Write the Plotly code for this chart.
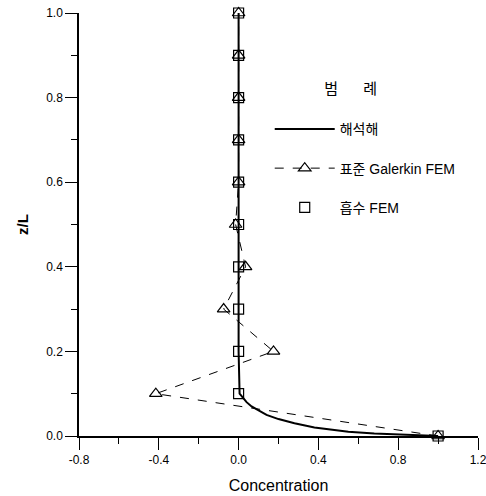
import plotly.graph_objects as go

# Analytical solution
z_exact = [0.0, 0.003, 0.006, 0.01, 0.015, 0.02, 0.03, 0.04, 0.05, 0.06, 0.07, 0.08, 0.09, 0.1,
           0.2, 0.3, 0.4, 0.5, 0.6, 0.7, 0.8, 0.9, 1.0]
c_exact = [1.0, 0.82, 0.68, 0.55, 0.45, 0.38, 0.28, 0.2, 0.14, 0.1, 0.065, 0.04, 0.02, 0.005,
           0.0, 0.0, 0.0, 0.0, 0.0, 0.0, 0.0, 0.0, 0.0]

# Standard Galerkin FEM
z_gal = [0.0, 0.1, 0.2, 0.3, 0.4, 0.5, 0.6, 0.7, 0.8, 0.9, 1.0]
c_gal = [1.0, -0.415, 0.175, -0.075, 0.035, -0.015, 0.0, 0.0, 0.0, 0.0, 0.0]

# Absorbing FEM
z_abs = [0.0, 0.1, 0.2, 0.3, 0.4, 0.5, 0.6, 0.7, 0.8, 0.9, 1.0]
c_abs = [1.0, 0.0, 0.0, 0.0, 0.0, 0.0, 0.0, 0.0, 0.0, 0.0, 0.0]

x_ticks = [-0.8, -0.4, 0.0, 0.4, 0.8, 1.2]
x_labels = ["-0.8", "-0.4", "0.0", "0.4", "0.8", "1.2"]
y_ticks = [0.0, 0.2, 0.4, 0.6, 0.8, 1.0]
y_labels = ["0.0", "0.2", "0.4", "0.6", "0.8", "1.0"]

FONT = "Liberation Sans, Arial, Noto Sans CJK KR"
NB = "\u00a0"

fig = go.Figure()
fig.add_trace(go.Scatter(x=c_exact, y=z_exact, mode="lines", name="해석해",
                         line=dict(color="black", width=2), legendgroup="a", cliponaxis=False))
fig.add_trace(go.Scatter(x=c_gal, y=z_gal, mode="lines+markers", name="표준 Galerkin FEM",
                         line=dict(color="black", width=1, dash="dash"),
                         marker=dict(symbol="triangle-up-open", size=11, color="black", line=dict(width=1.2)),
                         legendgroup="b", cliponaxis=False))
fig.add_trace(go.Scatter(x=c_abs, y=z_abs, mode="markers", name="흡수 FEM",
                         marker=dict(symbol="square-open", size=10, color="black", line=dict(width=1.2)),
                         legendgroup="c", cliponaxis=False))

fig.update_layout(
    width=486, height=496,
    margin=dict(l=79, r=8, t=13, b=60, autoexpand=False),
    paper_bgcolor="white", plot_bgcolor="white",
    font=dict(family=FONT, color="black", size=12),
    showlegend=True,
    legend=dict(x=0.478, y=0.855, xanchor="left", yanchor="top",
                title=dict(text="범" + NB * 6 + "례" + NB * 7 + "<br> ", side="top center", font=dict(size=15)),
                font=dict(size=14), tracegroupgap=18, itemwidth=60,
                bgcolor="rgba(0,0,0,0)"),
    xaxis=dict(range=[-0.8, 1.2], tickvals=x_ticks, ticktext=x_labels,
               ticks="outside", ticklen=12, tickwidth=1, tickcolor="black",
               minor=dict(dtick=0.2, tick0=0, ticks="outside", ticklen=6, tickcolor="black", showgrid=False),
               showline=True, linecolor="black", linewidth=1.5, showgrid=False, zeroline=False,
               tickfont=dict(size=12), automargin=False, ticklabeloverflow="allow",
               title=dict(text="Concentration", font=dict(size=16), standoff=14)),
    yaxis=dict(range=[0, 1.0], tickvals=y_ticks, ticktext=y_labels,
               ticks="outside", ticklen=12, tickwidth=1, tickcolor="black",
               minor=dict(dtick=0.1, tick0=0, ticks="outside", ticklen=6, tickcolor="black", showgrid=False),
               showline=True, linecolor="black", linewidth=1.5, showgrid=False, zeroline=False,
               tickfont=dict(size=12), automargin=False, ticklabeloverflow="allow",
               title=dict(text="<b>z/L</b>", font=dict(size=15), standoff=14)),
)

fig.write_html("out.html", config={"displayModeBar": False},
               post_script="document.body.style.margin='0';document.body.style.overflow='hidden';")
